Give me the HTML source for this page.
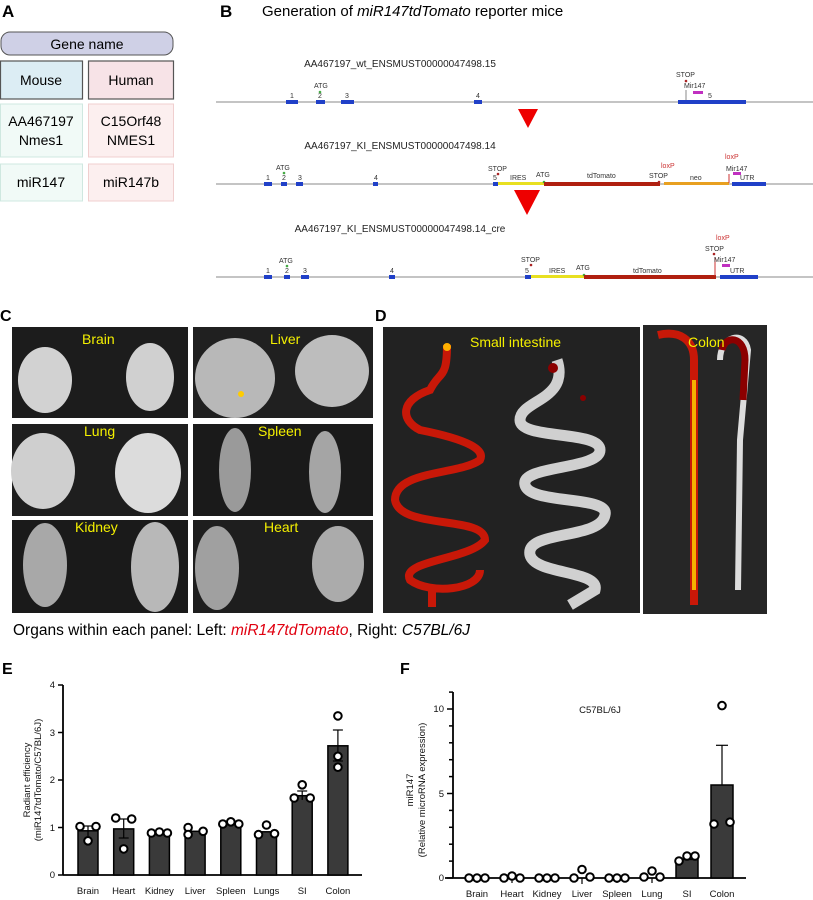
<!DOCTYPE html>
<html><head><meta charset="utf-8"><style>
html,body{margin:0;padding:0;background:#fff;}
svg{display:block;font-family:"Liberation Sans",Arial,sans-serif;}
</style></head><body>
<svg width="813" height="900" viewBox="0 0 813 900" xmlns="http://www.w3.org/2000/svg">
<rect width="813" height="900" fill="#fff"/>
<text x="2" y="17" font-size="17" font-weight="bold">A</text>
<text x="220" y="17" font-size="17" font-weight="bold">B</text>
<text x="262" y="16" font-size="15">Generation of <tspan font-style="italic">miR147tdTomato</tspan> reporter mice</text>

<rect x="1" y="32" width="172" height="23" rx="9" fill="#cfd0e6" stroke="#555" stroke-width="1"/>
<text x="87" y="49" font-size="14" text-anchor="middle">Gene name</text>
<rect x="0.5" y="61" width="82" height="38" fill="#dcedf4" stroke="#555" stroke-width="1.2"/>
<text x="41" y="85" font-size="14" text-anchor="middle">Mouse</text>
<rect x="88.5" y="61" width="85" height="38" fill="#f7e3e7" stroke="#555" stroke-width="1.2"/>
<text x="131" y="85" font-size="14" text-anchor="middle">Human</text>
<rect x="0.5" y="104" width="82" height="53" fill="#f1faf7" stroke="#cfe8e0" stroke-width="1"/>
<text x="41" y="126" font-size="14" text-anchor="middle">AA467197</text>
<text x="41" y="145" font-size="14" text-anchor="middle">Nmes1</text>
<rect x="88.5" y="104" width="85" height="53" fill="#fcefef" stroke="#f0cfcf" stroke-width="1"/>
<text x="131" y="126" font-size="14" text-anchor="middle">C15Orf48</text>
<text x="131" y="145" font-size="14" text-anchor="middle">NMES1</text>
<rect x="0.5" y="164" width="82" height="37" fill="#f1faf7" stroke="#cfe8e0" stroke-width="1"/>
<text x="41" y="187" font-size="14" text-anchor="middle">miR147</text>
<rect x="88.5" y="164" width="85" height="37" fill="#fcefef" stroke="#f0cfcf" stroke-width="1"/>
<text x="131" y="187" font-size="14" text-anchor="middle">miR147b</text>

<g font-size="7" fill="#333">
<text x="400" y="67" font-size="10" text-anchor="middle" fill="#222">AA467197_wt_ENSMUST00000047498.15</text>
<line x1="216" y1="102" x2="813" y2="102" stroke="#888" stroke-width="1"/>
<rect x="286" y="100" width="12" height="4" fill="#2040c8"/><text x="290" y="98">1</text>
<rect x="316" y="100" width="9" height="4" fill="#2040c8"/><text x="318" y="98">2</text>
<text x="314" y="88">ATG</text><circle cx="320" cy="92" r="1.3" fill="#4a4"/>
<rect x="341" y="100" width="13" height="4" fill="#2040c8"/><text x="345" y="98">3</text>
<rect x="474" y="100" width="8" height="4" fill="#2040c8"/><text x="476" y="98">4</text>
<rect x="678" y="100" width="68" height="4" fill="#2040c8"/><text x="708" y="98">5</text>
<line x1="686" y1="90" x2="686" y2="100" stroke="#888"/>
<text x="676" y="77">STOP</text><circle cx="686" cy="81" r="1.3" fill="#a22"/>
<text x="684" y="88">Mir147</text><rect x="693" y="91" width="10" height="3" fill="#c030c0"/>
<polygon points="518,109 538,109 528,128" fill="#e00"/>

<text x="400" y="149" font-size="10" text-anchor="middle" fill="#222">AA467197_KI_ENSMUST00000047498.14</text>
<line x1="216" y1="184" x2="813" y2="184" stroke="#888" stroke-width="1"/>
<rect x="264" y="182" width="8" height="4" fill="#2040c8"/><text x="266" y="180">1</text>
<rect x="281" y="182" width="6" height="4" fill="#2040c8"/><text x="282" y="180">2</text>
<text x="276" y="170">ATG</text><circle cx="284" cy="173" r="1.3" fill="#4a4"/>
<rect x="296" y="182" width="7" height="4" fill="#2040c8"/><text x="298" y="180">3</text>
<rect x="373" y="182" width="5" height="4" fill="#2040c8"/><text x="374" y="180">4</text>
<rect x="493" y="182" width="5" height="4" fill="#2040c8"/><text x="493" y="180">5</text>
<text x="488" y="171">STOP</text><circle cx="498" cy="174" r="1.3" fill="#a22"/>
<rect x="498" y="182" width="46" height="3" fill="#e8e020"/><text x="510" y="180">IRES</text>
<text x="536" y="177">ATG</text><circle cx="544" cy="182" r="1.3" fill="#4a4"/>
<rect x="544" y="182" width="116" height="4" fill="#b02010"/><text x="587" y="178">tdTomato</text>
<text x="649" y="178">STOP</text><circle cx="659" cy="182" r="1.3" fill="#a22"/>
<text x="661" y="168" fill="#c33">loxP</text>
<rect x="664" y="182" width="65" height="3" fill="#e8a020"/><text x="690" y="180">neo</text>
<line x1="729" y1="174" x2="729" y2="183" stroke="#c33"/>
<text x="725" y="159" fill="#c33">loxP</text>
<text x="726" y="171">Mir147</text><rect x="733" y="172" width="8" height="3" fill="#c030c0"/>
<rect x="732" y="182" width="34" height="4" fill="#2040c8"/><text x="740" y="180">UTR</text>
<polygon points="514,190 540,190 527,215" fill="#e00"/>

<text x="400" y="232" font-size="10" text-anchor="middle" fill="#222">AA467197_KI_ENSMUST00000047498.14_cre</text>
<line x1="216" y1="277" x2="813" y2="277" stroke="#888" stroke-width="1"/>
<rect x="264" y="275" width="8" height="4" fill="#2040c8"/><text x="266" y="273">1</text>
<rect x="284" y="275" width="6" height="4" fill="#2040c8"/><text x="285" y="273">2</text>
<text x="279" y="263">ATG</text><circle cx="287" cy="266" r="1.3" fill="#4a4"/>
<rect x="301" y="275" width="8" height="4" fill="#2040c8"/><text x="303" y="273">3</text>
<rect x="389" y="275" width="6" height="4" fill="#2040c8"/><text x="390" y="273">4</text>
<rect x="525" y="275" width="6" height="4" fill="#2040c8"/><text x="525" y="273">5</text>
<text x="521" y="262">STOP</text><circle cx="531" cy="265" r="1.3" fill="#a22"/>
<rect x="531" y="275" width="53" height="3" fill="#e8e020"/><text x="549" y="273">IRES</text>
<text x="576" y="270">ATG</text><circle cx="584" cy="275" r="1.3" fill="#4a4"/>
<rect x="584" y="275" width="132" height="4" fill="#b02010"/><text x="633" y="273">tdTomato</text>
<line x1="715" y1="257" x2="715" y2="276" stroke="#c33"/>
<text x="716" y="240" fill="#c33">loxP</text>
<text x="705" y="251">STOP</text><circle cx="714" cy="254" r="1.3" fill="#a22"/>
<text x="714" y="262">Mir147</text><rect x="722" y="264" width="8" height="3" fill="#c030c0"/>
<rect x="720" y="275" width="38" height="4" fill="#2040c8"/><text x="730" y="273">UTR</text>
</g>

<text x="0" y="321" font-size="16" font-weight="bold">C</text>
<text x="375" y="321" font-size="16" font-weight="bold">D</text>
<g>
<rect x="12" y="327" width="176" height="91" fill="#1c1c1c"/>
<rect x="193" y="327" width="180" height="91" fill="#202020"/>
<rect x="12" y="424" width="176" height="92" fill="#1e1e1e"/>
<rect x="193" y="424" width="180" height="92" fill="#1a1a1a"/>
<rect x="12" y="520" width="176" height="93" fill="#1a1a1a"/>
<rect x="193" y="520" width="180" height="93" fill="#1e1e1e"/>
<ellipse cx="45" cy="380" rx="27" ry="33" fill="#d2d2d2"/><ellipse cx="150" cy="377" rx="24" ry="34" fill="#d0d0d0"/>
<ellipse cx="235" cy="378" rx="40" ry="40" fill="#b8b8b8"/><ellipse cx="332" cy="371" rx="37" ry="36" fill="#bdbdbd"/>
<ellipse cx="43" cy="471" rx="32" ry="38" fill="#cfcfcf"/><ellipse cx="148" cy="473" rx="33" ry="40" fill="#dcdcdc"/>
<ellipse cx="235" cy="470" rx="16" ry="42" fill="#9a9a9a"/><ellipse cx="325" cy="472" rx="16" ry="41" fill="#a5a5a5"/>
<ellipse cx="45" cy="565" rx="22" ry="42" fill="#a8a8a8"/><ellipse cx="155" cy="567" rx="24" ry="45" fill="#b8b8b8"/>
<ellipse cx="217" cy="568" rx="22" ry="42" fill="#a0a0a0"/><ellipse cx="338" cy="564" rx="26" ry="38" fill="#ababab"/>
<circle cx="241" cy="394" r="3" fill="#fc0"/>
<g fill="#f4f000" font-size="14">
<text x="82" y="344">Brain</text>
<text x="270" y="344">Liver</text>
<text x="84" y="436">Lung</text>
<text x="258" y="436">Spleen</text>
<text x="75" y="532">Kidney</text>
<text x="264" y="532">Heart</text>
</g>
</g>

<rect x="383" y="327" width="257" height="286" fill="#222"/>
<rect x="643" y="325" width="124" height="289" fill="#262626"/>
<path d="M557,360 C570,400 520,400 520,420 C520,440 600,430 600,450 C600,470 520,465 525,485 C530,505 610,495 605,515 C600,540 525,530 530,555 C535,575 600,570 595,590 L570,605" fill="none" stroke="#d0d0d0" stroke-width="11"/>
<path d="M447,345 C447,380 440,370 430,390 C400,400 400,420 420,430 C470,440 485,450 480,460 C460,475 395,470 395,500 C400,530 485,515 485,540 C470,560 400,560 410,580 C430,595 480,590 480,570 M432,590 L432,607" fill="none" stroke="#c81808" stroke-width="8"/>
<circle cx="447" cy="347" r="4" fill="#ffb000"/>
<circle cx="553" cy="368" r="5" fill="#8b0000"/><circle cx="583" cy="398" r="3" fill="#8b0000"/>
<path d="M658,335 C680,330 694,340 694,360 L694,605" fill="none" stroke="#c81808" stroke-width="8"/>
<path d="M694,380 L694,590" fill="none" stroke="#f5b000" stroke-width="4"/>
<path d="M720,360 C720,335 745,330 748,350 L740,440 L738,590" fill="none" stroke="#dddddd" stroke-width="6"/>
<path d="M722,350 C725,335 745,335 745,360 L743,400" fill="none" stroke="#8b0000" stroke-width="7"/>
<g fill="#f4f000" font-size="14">
<text x="470" y="347">Small intestine</text>
<text x="688" y="347">Colon</text>
</g>

<text x="13" y="635" font-size="15.5">Organs within each panel: Left: <tspan fill="#e00010" font-style="italic">miR147tdTomato</tspan>, Right: <tspan font-style="italic">C57BL/6J</tspan></text>

<text x="2" y="674" font-size="16" font-weight="bold">E</text>
<g font-size="9.5" fill="#111">
<line x1="63" y1="685" x2="63" y2="875" stroke="#000" stroke-width="1.8"/>
<line x1="63" y1="875" x2="362" y2="875" stroke="#000" stroke-width="1.8"/>
<g stroke="#000" stroke-width="1.5">
<line x1="58" y1="875" x2="63" y2="875"/><line x1="58" y1="827.5" x2="63" y2="827.5"/><line x1="58" y1="780" x2="63" y2="780"/><line x1="58" y1="732.5" x2="63" y2="732.5"/><line x1="58" y1="685" x2="63" y2="685"/>
</g>
<text x="55" y="878" text-anchor="end">0</text><text x="55" y="831" text-anchor="end">1</text><text x="55" y="783" text-anchor="end">2</text><text x="55" y="736" text-anchor="end">3</text><text x="55" y="688" text-anchor="end">4</text>
<text transform="translate(30,780) rotate(-90)" text-anchor="middle">Radiant efficiency</text>
<text transform="translate(41,780) rotate(-90)" text-anchor="middle">(miR147tdTomato/C57BL/6J)</text>
<g fill="#3a3a3a" stroke="#000" stroke-width="1.5">
<rect x="78" y="830.8" width="20" height="44.2"/>
<rect x="113.7" y="828.9" width="20" height="46.1"/>
<rect x="149.4" y="833.2" width="20" height="41.8"/>
<rect x="185.1" y="831.3" width="20" height="43.7"/>
<rect x="220.8" y="823.7" width="20" height="51.3"/>
<rect x="256.5" y="831.8" width="20" height="43.2"/>
<rect x="292.2" y="795.7" width="20" height="79.3"/>
<rect x="327.9" y="745.8" width="20" height="129.2"/>
</g>
<g stroke="#000" stroke-width="1.2">
<line x1="88" y1="826" x2="88" y2="836"/><line x1="83" y1="826" x2="93" y2="826"/>
<line x1="123.7" y1="819" x2="123.7" y2="838"/><line x1="118.7" y1="819" x2="128.7" y2="819"/><line x1="118.7" y1="838" x2="128.7" y2="838"/>
<line x1="302.2" y1="791" x2="302.2" y2="800"/><line x1="297.2" y1="791" x2="307.2" y2="791"/>
<line x1="337.9" y1="730" x2="337.9" y2="761"/><line x1="332.9" y1="730" x2="342.9" y2="730"/><line x1="332.9" y1="761" x2="342.9" y2="761"/>
</g>
<g fill="#fff" stroke="#000" stroke-width="2">
<circle cx="80" cy="826.5" r="3.8"/><circle cx="88" cy="840.8" r="3.8"/><circle cx="96" cy="826.5" r="3.8"/>
<circle cx="115.7" cy="818" r="3.8"/><circle cx="123.7" cy="848.9" r="3.8"/><circle cx="131.7" cy="819" r="3.8"/>
<circle cx="151.4" cy="833" r="3.8"/><circle cx="159.4" cy="832" r="3.8"/><circle cx="167.4" cy="833" r="3.8"/>
<circle cx="188.1" cy="827.5" r="3.8"/><circle cx="188.1" cy="834.6" r="3.8"/><circle cx="203.1" cy="831.3" r="3.8"/>
<circle cx="222.8" cy="824" r="3.8"/><circle cx="230.8" cy="821.8" r="3.8"/><circle cx="238.8" cy="824" r="3.8"/>
<circle cx="258.5" cy="834.6" r="3.8"/><circle cx="266.5" cy="825" r="3.8"/><circle cx="274.5" cy="833.7" r="3.8"/>
<circle cx="294.2" cy="798" r="3.8"/><circle cx="302.2" cy="784.8" r="3.8"/><circle cx="310.2" cy="798" r="3.8"/>
<circle cx="337.9" cy="715.9" r="3.8"/><circle cx="337.9" cy="756.3" r="3.8"/><circle cx="337.9" cy="767.2" r="3.8"/>
</g>
<g text-anchor="middle">
<text x="88" y="894">Brain</text>
<text x="123.7" y="894">Heart</text><text x="159.4" y="894">Kidney</text><text x="195.1" y="894">Liver</text>
<text x="230.8" y="894">Spleen</text><text x="266.5" y="894">Lungs</text><text x="302.2" y="894">SI</text><text x="337.9" y="894">Colon</text>
</g>
</g>

<text x="400" y="674" font-size="16" font-weight="bold">F</text>
<g font-size="9.5" fill="#111">
<line x1="453" y1="692" x2="453" y2="878" stroke="#000" stroke-width="1.8"/>
<line x1="445" y1="878" x2="746" y2="878" stroke="#000" stroke-width="1.8"/>
<g stroke="#000" stroke-width="1.5">
<line x1="447" y1="878" x2="453" y2="878"/><line x1="447" y1="793.5" x2="453" y2="793.5"/><line x1="447" y1="709" x2="453" y2="709"/>
<line x1="449" y1="861.1" x2="453" y2="861.1"/><line x1="449" y1="844.2" x2="453" y2="844.2"/><line x1="449" y1="827.3" x2="453" y2="827.3"/><line x1="449" y1="810.4" x2="453" y2="810.4"/>
<line x1="449" y1="776.6" x2="453" y2="776.6"/><line x1="449" y1="759.7" x2="453" y2="759.7"/><line x1="449" y1="742.8" x2="453" y2="742.8"/><line x1="449" y1="725.9" x2="453" y2="725.9"/><line x1="449" y1="692.1" x2="453" y2="692.1"/>
</g>
<text x="444" y="881" text-anchor="end">0</text><text x="444" y="797" text-anchor="end">5</text><text x="444" y="712" text-anchor="end">10</text>
<text transform="translate(413,790) rotate(-90)" text-anchor="middle">miR147</text>
<text transform="translate(425,790) rotate(-90)" text-anchor="middle">(Relative microRNA expression)</text>
<text x="600" y="713" text-anchor="middle">C57BL/6J</text>
<g fill="#3a3a3a" stroke="#000" stroke-width="1.5">
<rect x="676" y="859.4" width="22" height="18.6"/>
<rect x="711" y="785" width="22" height="93"/>
</g>
<line x1="722" y1="745.3" x2="722" y2="785" stroke="#000" stroke-width="1.2"/><line x1="716" y1="745.3" x2="728" y2="745.3" stroke="#000" stroke-width="1.2"/>
<g stroke="#000" stroke-width="1.2">
<line x1="477" y1="878" x2="477" y2="883"/><line x1="512" y1="878" x2="512" y2="883"/><line x1="547" y1="878" x2="547" y2="883"/><line x1="582" y1="878" x2="582" y2="884"/><line x1="617" y1="878" x2="617" y2="883"/><line x1="652" y1="878" x2="652" y2="883"/>
</g>
<g fill="#fff" stroke="#000" stroke-width="2">
<circle cx="469" cy="878" r="3.8"/><circle cx="477" cy="878" r="3.8"/><circle cx="485" cy="878" r="3.8"/>
<circle cx="504" cy="878" r="3.8"/><circle cx="512" cy="876" r="3.8"/><circle cx="520" cy="878" r="3.8"/>
<circle cx="539" cy="878" r="3.8"/><circle cx="547" cy="878" r="3.8"/><circle cx="555" cy="878" r="3.8"/>
<circle cx="574" cy="878" r="3.8"/><circle cx="582" cy="869.5" r="3.8"/><circle cx="590" cy="877" r="3.8"/>
<circle cx="609" cy="878" r="3.8"/><circle cx="617" cy="878" r="3.8"/><circle cx="625" cy="878" r="3.8"/>
<circle cx="644" cy="877" r="3.8"/><circle cx="652" cy="871" r="3.8"/><circle cx="660" cy="877" r="3.8"/>
<circle cx="679" cy="861" r="3.8"/><circle cx="687" cy="856" r="3.8"/><circle cx="695" cy="856" r="3.8"/>
<circle cx="714" cy="824" r="3.8"/><circle cx="722" cy="705.6" r="3.8"/><circle cx="730" cy="822.2" r="3.8"/>
</g>
<g text-anchor="middle">
<text x="477" y="897">Brain</text><text x="512" y="897">Heart</text><text x="547" y="897">Kidney</text><text x="582" y="897">Liver</text>
<text x="617" y="897">Spleen</text><text x="652" y="897">Lung</text><text x="687" y="897">SI</text><text x="722" y="897">Colon</text>
</g>
</g>
</svg>
</body></html>
